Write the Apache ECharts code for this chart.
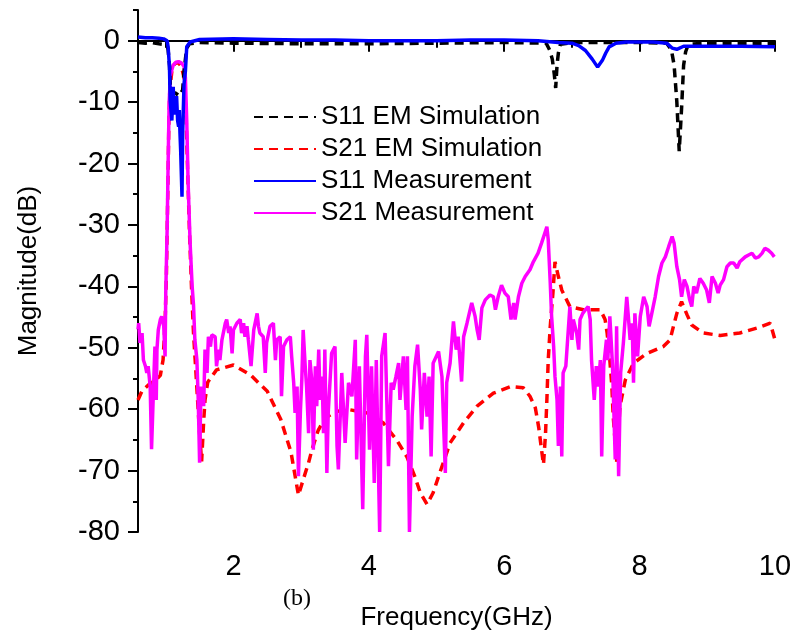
<!DOCTYPE html>
<html>
<head>
<meta charset="utf-8">
<script src="https://cdn.jsdelivr.net/npm/echarts@6/dist/echarts.min.js"></script>
<style>html,body{margin:0;padding:0;background:#fff;}#c{width:795px;height:632px;}</style>
</head>
<body>
<div id="c"></div>
<script>
// ---- data (frequency GHz, magnitude dB) ----
const xMajorTicks = [2, 4, 6, 8, 10];
const xMinorTicks = [1, 3, 5, 7, 9];
const yMajorTicks = [-80, -70, -60, -50, -40, -30, -20, -10, 0];
const yMinorTicks = [-75, -65, -55, -45, -35, -25, -15, -5, 5];

const s11Sim = [[0.59,-0.3],[0.7,-0.4],[0.8,-0.3],[0.9,-0.5],[0.97,-0.6],[1.02,-0.8],[1.035,-1.5],[1.055,-4],[1.065,-7],[1.09,-8.5],[1.14,-8.5],[1.2,-9],[1.25,-8],[1.27,-5],[1.29,-3],[1.31,-1.2],[1.35,-0.5],[1.5,-0.3],[2,-0.4],[3,-0.5],[4,-0.5],[5,-0.4],[6,-0.3],[6.62,-0.4],[6.67,-1.5],[6.71,-3],[6.74,-5.5],[6.76,-7.7],[6.78,-4],[6.8,-2],[6.83,-0.6],[7,-0.3],[7.5,-0.3],[8,-0.3],[8.4,-0.4],[8.47,-1.5],[8.51,-4],[8.55,-10],[8.585,-18],[8.62,-11],[8.65,-4],[8.68,-1.8],[8.72,-0.6],[9,-0.4],[9.5,-0.4],[10,-0.4]];

const s21Sim = [[0.59,-58.5],[0.65,-57],[0.75,-56],[0.85,-55.3],[0.92,-54.5],[0.96,-52],[0.99,-46],[1.01,-38],[1.03,-25],[1.045,-14],[1.06,-8],[1.09,-5],[1.13,-3.8],[1.18,-3.5],[1.23,-4.2],[1.27,-6],[1.3,-12],[1.32,-20],[1.35,-31],[1.38,-40],[1.41,-47.6],[1.44,-53],[1.47,-58.5],[1.5,-64],[1.53,-68.5],[1.56,-62],[1.58,-58.5],[1.62,-55.6],[1.75,-53.6],[2.0,-52.8],[2.25,-54.4],[2.5,-57.1],[2.7,-61.7],[2.85,-67],[2.96,-74],[3.03,-71.5],[3.11,-68.7],[3.16,-66.6],[3.25,-63.5],[3.35,-61.5],[3.5,-60.4],[3.72,-60.1],[3.97,-60.6],[4.21,-62.2],[4.41,-65],[4.56,-67.7],[4.68,-71],[4.76,-73.6],[4.86,-75.5],[4.95,-73.6],[5.05,-70.3],[5.2,-65.5],[5.4,-62.2],[5.6,-59.5],[5.84,-57.4],[6.1,-56.3],[6.28,-56.5],[6.38,-57.9],[6.46,-59.8],[6.51,-63],[6.55,-66.5],[6.58,-69],[6.61,-64],[6.63,-58.5],[6.65,-52],[6.68,-46.5],[6.72,-41],[6.75,-36],[6.8,-38.4],[6.85,-40.6],[6.97,-43.3],[7.17,-43.8],[7.42,-43.8],[7.49,-45.4],[7.52,-47.6],[7.56,-52],[7.59,-56.3],[7.61,-61.2],[7.64,-65.5],[7.66,-68.7],[7.68,-65],[7.71,-59.5],[7.79,-55.2],[7.91,-52.5],[8.11,-50.9],[8.35,-49.8],[8.45,-48.7],[8.5,-46.5],[8.55,-44.4],[8.62,-42.5],[8.7,-44.6],[8.77,-46.3],[8.94,-47.6],[9.19,-48],[9.48,-47.6],[9.73,-46.8],[9.93,-46],[10,-48.7]];

const s11Meas = [[0.59,0.6],[0.7,0.5],[0.8,0.5],[0.9,0.4],[0.97,0.3],[1.02,0],[1.035,-1],[1.055,-4.3],[1.065,-9.7],[1.09,-13],[1.11,-7.5],[1.125,-12],[1.14,-11.3],[1.16,-9],[1.175,-13],[1.19,-14],[1.2,-11.3],[1.21,-15],[1.22,-17.8],[1.24,-25.4],[1.25,-15],[1.27,-7],[1.29,-5],[1.31,-1],[1.36,-0.2],[1.5,0.2],[2,0.3],[2.5,0.2],[3,0.1],[3.5,0.1],[4,0],[4.5,0],[5,0],[5.5,0.1],[6,0.1],[6.5,0],[6.8,-0.3],[7.0,-0.4],[7.1,-0.8],[7.2,-1.6],[7.3,-3.0],[7.38,-4.3],[7.45,-3.2],[7.5,-2],[7.55,-1],[7.65,-0.4],[7.8,-0.2],[8.2,-0.2],[8.4,-0.4],[8.48,-1.2],[8.55,-1.4],[8.65,-0.9],[9,-0.9],[9.5,-0.9],[10,-1.0]];

const s21Meas = [[0.59,-47],[0.6,-46],[0.62,-49.2],[0.65,-47.6],[0.67,-52],[0.7,-53],[0.72,-54.1],[0.74,-53],[0.77,-56.3],[0.79,-66.5],[0.82,-56.3],[0.84,-49.8],[0.86,-58.5],[0.87,-50.3],[0.89,-47.1],[0.92,-45.4],[0.94,-44.9],[0.97,-46.5],[0.99,-51.4],[1.0,-41.1],[1.02,-31],[1.035,-20],[1.05,-10],[1.07,-5.5],[1.11,-4],[1.15,-3.5],[1.19,-3.4],[1.23,-3.6],[1.27,-4.2],[1.29,-6],[1.31,-13],[1.33,-23],[1.36,-33],[1.39,-40],[1.41,-43],[1.43,-48.7],[1.46,-52],[1.48,-58.5],[1.5,-68.7],[1.52,-56.3],[1.56,-59.5],[1.58,-50.3],[1.61,-54.1],[1.63,-48.2],[1.66,-49.8],[1.68,-47.9],[1.73,-48.2],[1.75,-53],[1.78,-50.3],[1.8,-52],[1.83,-48.7],[1.88,-46],[1.9,-45.4],[1.93,-47.6],[1.95,-46.5],[1.98,-50.9],[2.0,-47.1],[2.05,-46],[2.1,-45.4],[2.12,-47.6],[2.15,-46],[2.17,-48.2],[2.2,-46.5],[2.22,-48.7],[2.26,-53],[2.3,-47.1],[2.35,-44.4],[2.37,-46.5],[2.39,-47.6],[2.44,-48.2],[2.47,-54.1],[2.49,-49.2],[2.54,-46.5],[2.59,-46],[2.62,-52],[2.64,-48.7],[2.69,-48.2],[2.71,-57.9],[2.74,-49.8],[2.79,-48.7],[2.84,-48.2],[2.86,-51.4],[2.89,-55.7],[2.91,-60.6],[2.94,-56.3],[2.96,-70.9],[2.99,-60.1],[3.01,-55.2],[3.03,-47.1],[3.06,-53],[3.08,-56.3],[3.11,-63.9],[3.13,-52],[3.16,-55.7],[3.18,-66.6],[3.21,-53],[3.23,-59.5],[3.26,-50.3],[3.28,-58.5],[3.31,-54.7],[3.33,-63.9],[3.35,-50.3],[3.38,-70.4],[3.4,-60.6],[3.45,-50.9],[3.5,-49.8],[3.53,-66],[3.55,-69.8],[3.6,-54.1],[3.65,-65.5],[3.7,-55.7],[3.75,-57.9],[3.8,-48.7],[3.82,-68.2],[3.86,-53],[3.91,-76.3],[3.95,-51.4],[3.97,-47.9],[4.01,-66.6],[4.04,-53],[4.08,-72],[4.11,-52],[4.16,-80],[4.19,-51.4],[4.24,-47.6],[4.29,-69.3],[4.33,-55.7],[4.36,-56.8],[4.4,-54.7],[4.44,-52.5],[4.46,-58.5],[4.51,-51.4],[4.55,-60.1],[4.57,-51.4],[4.6,-80],[4.64,-61.2],[4.68,-53],[4.72,-49.5],[4.76,-56.8],[4.78,-63.3],[4.82,-54.1],[4.86,-61.2],[4.89,-54.7],[4.92,-67.7],[4.95,-52.5],[5.03,-50.6],[5.08,-54.7],[5.13,-70.4],[5.15,-55.7],[5.2,-52.5],[5.25,-45.7],[5.29,-50.3],[5.32,-48.2],[5.37,-55.5],[5.4,-48.2],[5.45,-46],[5.52,-42.7],[5.57,-44.9],[5.6,-47.1],[5.63,-48.7],[5.67,-43.5],[5.72,-42.2],[5.79,-41.4],[5.84,-41.7],[5.87,-43.8],[5.91,-41.7],[5.96,-39.8],[6.01,-41.1],[6.06,-41.7],[6.1,-45.4],[6.14,-42.7],[6.16,-45.4],[6.21,-41.7],[6.26,-39.5],[6.31,-38.4],[6.38,-37.3],[6.43,-36],[6.5,-34.6],[6.55,-33],[6.6,-31.3],[6.63,-30.3],[6.65,-32.4],[6.68,-39.5],[6.7,-44.9],[6.73,-49.8],[6.75,-54.7],[6.78,-58.5],[6.8,-66],[6.83,-56.3],[6.85,-67.7],[6.87,-54.1],[6.91,-53],[6.95,-46.5],[6.97,-43.3],[7.0,-48.7],[7.02,-45.4],[7.07,-47.6],[7.1,-50.3],[7.12,-45.4],[7.16,-44.4],[7.2,-43.8],[7.24,-43.3],[7.27,-45.4],[7.29,-52],[7.33,-58.5],[7.36,-53],[7.39,-56.3],[7.42,-52],[7.44,-67.7],[7.47,-53],[7.51,-48.7],[7.53,-52],[7.56,-44.9],[7.6,-53],[7.64,-68.2],[7.66,-46.5],[7.69,-70.9],[7.72,-54.1],[7.76,-49.2],[7.81,-41.7],[7.83,-44.4],[7.86,-48.7],[7.89,-46],[7.91,-55.7],[7.93,-44.4],[7.97,-51.4],[8.01,-44.9],[8.06,-41.7],[8.11,-43.3],[8.14,-46.5],[8.18,-44.4],[8.23,-41.7],[8.28,-38.4],[8.33,-36.2],[8.38,-35.2],[8.43,-33.5],[8.48,-31.9],[8.51,-33],[8.55,-36.8],[8.59,-38.9],[8.62,-41.7],[8.66,-38.9],[8.7,-40],[8.74,-42.2],[8.77,-43.3],[8.8,-40],[8.84,-41.1],[8.89,-38.7],[8.94,-39.5],[8.99,-40.6],[9.03,-42.7],[9.07,-38.4],[9.12,-39.5],[9.16,-41.1],[9.19,-39.8],[9.24,-38.9],[9.29,-36.8],[9.34,-36.2],[9.39,-36.2],[9.44,-37],[9.48,-36],[9.56,-35.2],[9.61,-34.9],[9.66,-34.6],[9.71,-35.4],[9.76,-35.2],[9.81,-34.6],[9.85,-33.8],[9.9,-34.1],[9.95,-34.6],[9.99,-35.2]];

const names = ['S11 EM Simulation', 'S21 EM Simulation', 'S11 Measurement', 'S21 Measurement'];

// ---- chart ----
const FONT = "'Liberation Sans', Arial, sans-serif";
const chart = echarts.init(document.getElementById('c'), null, {renderer: 'canvas'});
const axisLineStyle = {color: '#000', width: 2};
const LW = 3.5;
chart.setOption({
  animation: false,
  backgroundColor: '#fff',
  grid: {left: 138, right: 20, top: 10, bottom: 100, containLabel: false, outerBoundsMode: 'none'},
  legend: {
    orient: 'vertical', left: 253, top: 104, padding: 0,
    itemWidth: 62, itemHeight: 14, itemGap: 6,
    data: names,
    itemStyle: {opacity: 0},
    textStyle: {fontSize: 26, fontFamily: FONT, color: '#000'}
  },
  xAxis: [{
    type: 'value', min: 0.59, max: 10, position: 'bottom',
    axisLine: {lineStyle: axisLineStyle},
    axisTick: {customValues: xMajorTicks, length: 11, lineStyle: {width: 2, color: '#000'}},
    axisLabel: {customValues: xMajorTicks, fontSize: 29, fontFamily: FONT, color: '#000', margin: 20},
    splitLine: {show: false},
    name: 'Frequency(GHz)', nameLocation: 'middle', nameGap: 73,
    nameTextStyle: {fontSize: 26, fontFamily: FONT, color: '#000'}
  }, {
    type: 'value', min: 0.59, max: 10, position: 'bottom', offset: 0,
    axisLine: {show: false},
    axisTick: {show: true, customValues: xMinorTicks, length: 7, lineStyle: {width: 2, color: '#000'}},
    axisLabel: {show: false},
    splitLine: {show: false}
  }],
  yAxis: [{
    type: 'value', min: -80, max: 5, position: 'left',
    axisLine: {show: true, lineStyle: axisLineStyle},
    axisTick: {show: true, customValues: yMajorTicks, length: 10, lineStyle: {width: 2, color: '#000'}},
    axisLabel: {customValues: yMajorTicks, fontSize: 29, fontFamily: FONT, color: '#000', margin: 18},
    splitLine: {show: false},
    name: 'Magnitude(dB)', nameLocation: 'middle', nameGap: 96, nameRotate: 90,
    nameTextStyle: {fontSize: 26, fontFamily: FONT, color: '#000'}
  }, {
    type: 'value', min: -80, max: 5, position: 'left', offset: 0,
    axisLine: {show: false},
    axisTick: {show: true, customValues: yMinorTicks, length: 5, lineStyle: {width: 2, color: '#000'}},
    axisLabel: {show: false},
    splitLine: {show: false}
  }],
  graphic: [{
    type: 'text', left: 283, top: 587,
    style: {text: '(b)', font: "24px 'Liberation Serif', 'Times New Roman', serif", fill: '#000'}
  }],
  series: [
    {name: names[1], type: 'line', data: s21Sim, symbol: 'none', z: 2,
     lineStyle: {color: '#ff0000', width: LW, type: [9, 6]}, itemStyle: {color: '#ff0000'}},
    {name: names[3], type: 'line', data: s21Meas, symbol: 'none', z: 3,
     lineStyle: {color: '#ff00ff', width: LW}, itemStyle: {color: '#ff00ff'}},
    {name: names[0], type: 'line', data: s11Sim, symbol: 'none', z: 4,
     lineStyle: {color: '#000000', width: LW, type: [9, 6]}, itemStyle: {color: '#000000'}},
    {name: names[2], type: 'line', data: s11Meas, symbol: 'none', z: 5,
     lineStyle: {color: '#0000ff', width: LW}, itemStyle: {color: '#0000ff'}}
  ]
});
</script>
</body>
</html>
